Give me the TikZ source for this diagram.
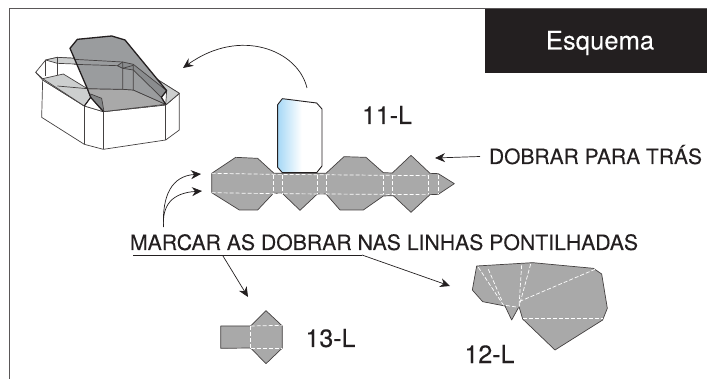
\documentclass[tikz,border=0pt]{standalone}
\usepackage{fontspec}
\setmainfont[FakeBold=0.05]{TeX Gyre Heros}
\usetikzlibrary{arrows.meta}
\definecolor{ink}{HTML}{231F20}
\definecolor{netgrey}{HTML}{A9A9A9}
\definecolor{flapgrey}{HTML}{9A9C9E}
\definecolor{bandgrey}{HTML}{8A8C8E}
\definecolor{lightgrey}{HTML}{CDCFCF}
\definecolor{tabblue}{HTML}{A6D8F6}
\tikzset{
  every node/.style={inner sep=0pt,outer sep=0pt,text=ink},
  lab/.style={anchor=base,font=\fontsize{25}{30}\selectfont},
  note/.style={anchor=base west,font=\fontsize{21}{25}\selectfont},
  net/.style={fill=netgrey,draw=ink!85,line width=.7pt,line join=round},
  fold/.style={draw=white,line width=.7pt,dash pattern=on 4pt off 2pt},
  boxline/.style={draw=ink!85,line width=.7pt,line join=round},
  ptr/.style={draw=ink,line width=.7pt,-{Stealth[length=10pt,width=9pt]}},
  zoomview/.style={x=1pt/3,y=-1pt/3},
}
\begin{document}
\begin{tikzpicture}[x=1pt,y=-1pt]
\useasboundingbox (0,0) rectangle (707,379);
\fill[white] (0,0) rectangle (707,379);
% frame
\draw[ink!75,line width=1pt] (9.5,379) -- (9.5,8.5) -- (707,8.5);
\fill[ink] (485,9) rectangle (707,73.5);
\node[lab,text=white,font=\fontsize{25.6}{30}\selectfont] (title) at (600,49.5) {Esquema};

% 3D box
\begin{scope}[zoomview]
  \path[fill=white,boxline] (128,240) -- (125,352) -- (253,433) -- (310,448) -- (497,420) -- (538,390) -- (538,280) -- (497,315) -- (310,335) -- (253,318) -- cycle;
  \draw[boxline] (253,318) -- (253,433);
  \draw[boxline] (310,335) -- (310,448);
  \draw[boxline] (497,315) -- (497,420);
  % rim
  \path[fill=white,boxline] (107,217) -- (137,180) -- (172,172) -- (368,183) -- (400,193) -- (538,280) -- (497,315) -- (310,335) -- (253,318) -- (128,240) -- cycle;
  % light strips
  \path[fill=lightgrey,boxline] (137,180) -- (172,172) -- (368,183) -- (350,197) -- (172,190) -- cycle;
  \path[fill=lightgrey,boxline] (400,193) -- (538,280) -- (497,315) -- (500,272) -- cycle;
  \path[fill=lightgrey,boxline] (128,236) -- (190,222) -- (262,266) -- (272,292) -- (253,318) -- cycle;
  \draw[boxline] (107,217) -- (128,236);
  \draw[boxline] (137,180) -- (137,228);
  \draw[boxline] (172,172) -- (172,226);
  \draw[boxline] (172,258) -- (262,266);
  % floor
  \path[fill=netgrey,boxline] (262,266) -- (368,268) -- (400,270) -- (497,313) -- (310,335) -- (272,292) -- cycle;
  % flap, with the walls seen through it
  \path[fill=flapgrey] (210,145) -- (232,118) -- (335,108) -- (375,120) -- (500,272) -- (484,292) -- (497,313) -- (400,270) -- (368,268) -- (262,266) -- cycle;
  \path[fill=bandgrey,boxline] (352,197) -- (368,186) -- (400,193) -- (500,272) -- (484,292) -- (400,210) -- (368,205) -- cycle;
  \draw[boxline] (222,178) -- (368,186) (222,193) -- (352,197);
  \draw[boxline] (368,186) -- (368,268) (400,193) -- (400,270) (368,205) -- (400,196);
  \draw[boxline] (262,266) -- (368,268) -- (400,270) -- (497,313);
  \path[fill=flapgrey!85!black,boxline] (272,282) -- (305,295) -- (312,335) -- (272,292) -- cycle;
  \draw[ink,line width=1.3pt,line join=round] (262,266) -- (210,145) -- (232,118) -- (335,108) -- (375,120) -- (500,272) -- (484,292) -- (497,313);
  \draw[ink,line width=1.1pt,line join=round] (262,266) -- (272,292) -- (253,318) (272,292) -- (310,335);
\end{scope}

% main net with its tab
\begin{scope}[shift={(190,80)},zoomview]
  \path[net] (65,280) -- (137,232) -- (203,235) -- (252,280) -- (408,280) -- (462,230) -- (528,232) -- (580,278) -- (607,279) -- (663,226) -- (720,280) -- (745,281) -- (793,311) -- (745,343) -- (720,344) -- (663,397) -- (610,347) -- (580,348) -- (520,390) -- (450,390) -- (408,342) -- (382,342) -- (330,391) -- (277,340) -- (250,340) -- (203,390) -- (148,390) -- (65,338) -- cycle;
  \draw[fold] (65,280) -- (250,283) -- (716,287);
  \draw[fold] (65,338) -- (250,341) -- (716,344);
  \foreach \xx in {250,278,382,409,580,607,716,745} \draw[fold] (\xx,285) -- (\xx,342);
  \def\tabpath{(277,56) -- (380,69) -- (396,87) -- (396,258) -- (380,278) -- (277,278) -- (263,262) -- (263,74) -- cycle}
  \fill[white] \tabpath;
  \begin{scope}
    \clip \tabpath;
    \shade[left color=tabblue,right color=white] (263,50) rectangle (335,285);
  \end{scope}
  \draw[ink,line width=.9pt,line join=round] \tabpath;
\end{scope}

% net 12-L
\begin{scope}[shift={(450,250)},zoomview]
  \path[net] (80,48) -- (248,38) -- (430,55) -- (455,72) -- (472,175) -- (458,210) -- (315,300) -- (218,207) -- (207,170) -- (185,210) -- (165,168) -- (98,155) -- (67,120) -- cycle;
  \draw[fold] (85,52) -- (160,165) -- (205,172);
  \draw[fold] (115,58) -- (155,150);
  \draw[fold] (215,45) -- (207,170);
  \draw[fold] (242,42) -- (207,170);
  \draw[fold] (435,58) -- (207,155);
  \draw[fold] (218,205) -- (458,205);
\end{scope}

% net 13-L
\begin{scope}[shift={(120,220)},zoomview]
  \path[net] (302,318) -- (392,318) -- (438,272) -- (487,318) -- (487,384) -- (438,431) -- (392,384) -- (302,385) -- cycle;
  \draw[fold] (392,318) -- (487,316);
  \draw[fold] (392,384) -- (487,384);
  \draw[fold] (392,318) -- (392,384);
\end{scope}

% labels
\node[lab] (l11) at (387,124) {11-L};
\node[lab] (l13) at (330.5,347) {13-L};
\node[lab] (l12) at (489.5,363) {12-L};
\node[note] (back) at (489,164) {DOBRAR PARA TRÁS};
\node[note,font=\fontsize{21.2}{25}\selectfont] (mark) at (130,250) {MARCAR AS DOBRAR NAS LINHAS PONTILHADAS};

% connectors
\coordinate (ulA) at (133,255);
\coordinate (ulB) at (362,255);
\coordinate (dropA) at (223,256);
\coordinate (tip13) at (248,297);
\coordinate (tip12) at (450,286);
\coordinate (tipBack) at (435,158);
\coordinate (backFrom) at (480,156.5);
\coordinate (curveFrom) at (163.5,227);
\coordinate (tipU) at (201,174);
\coordinate (tipL) at (202,191);
\coordinate (arcFrom) at (307,88);
\coordinate (tipBox) at (183,68);
\draw[ink,line width=.8pt] (ulA) -- (ulB);
\draw[ptr] (ulB) -- (tip12);
\draw[ptr] (dropA) -- (tip13);
\draw[ptr] (backFrom) -- (tipBack);
\draw[ptr] (curveFrom) .. controls (162,195) and (172,176) .. (tipU);
\draw[ptr] (curveFrom) .. controls (162,205) and (172,193) .. (tipL);
\draw[ptr] (arcFrom) .. controls (298,50) and (240,27) .. (tipBox);
\end{tikzpicture}
\end{document}
